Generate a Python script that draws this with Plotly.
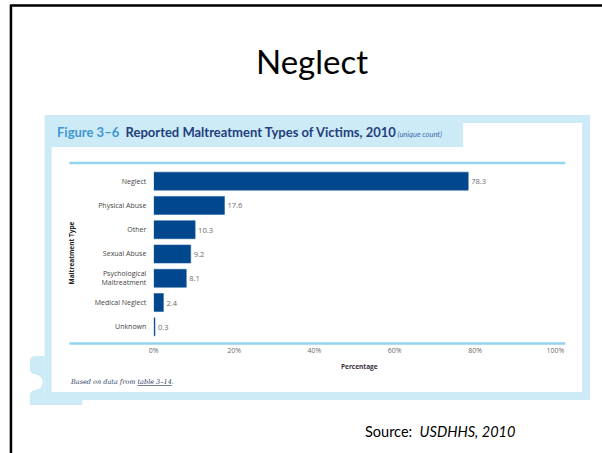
import plotly.graph_objects as go

W, H = 602, 453

categories = ["Neglect", "Physical Abuse", "Other", "Sexual Abuse",
              "Psychological<br>Maltreatment", "Medical Neglect", "Unknown"]
values = [78.3, 17.6, 10.3, 9.2, 8.1, 2.4, 0.3]
value_labels = ["78.3", "17.6", "10.3", "9.2", "8.1", "2.4", "0.3"]
x_ticks = [0, 20, 40, 60, 80, 100]
x_tick_labels = ["0%", "20%", "40%", "60%", "80%", "100%"]


def px(x):
    return x / W


def py(y):
    return 1 - y / H


FRAME = "#cdeaf7"
PLOTBG = "#cbe9f7"
LINE = "#94d2ef"
BAR = "#00478e"

fig = go.Figure()
fig.add_trace(go.Bar(
    x=values, y=categories, orientation="h",
    marker=dict(color=BAR, line=dict(color="#1d5c9c", width=0.6)),
    width=0.74,
    text=value_labels, textposition="outside",
    textfont=dict(size=7.5, color="#6a6a6a", family="Open Sans"),
    cliponaxis=False,
    hoverinfo="skip",
))

shapes = []
# outer light blue frame
shapes.append(dict(type="rect", xref="paper", yref="paper", layer="below",
                   x0=px(40), x1=px(590), y0=py(400), y1=py(115),
                   fillcolor=FRAME, line=dict(width=0)))
# decorative tab at bottom left
path = (f"M {px(40)},{py(356)} L {px(30)},{py(356)} "
        f"Q {px(25)},{py(356)} {px(25)},{py(362)} "
        f"L {px(25)},{py(368)} Q {px(25)},{py(374)} {px(30)},{py(374)} "
        f"Q {px(38)},{py(376)} {px(38)},{py(382)} "
        f"Q {px(38)},{py(389)} {px(30)},{py(390)} "
        f"Q {px(25)},{py(391)} {px(25)},{py(396)} "
        f"L {px(25)},{py(405)} L {px(78)},{py(405)} L {px(78)},{py(398)} "
        f"L {px(40)},{py(398)} Z")
shapes.append(dict(type="path", xref="paper", yref="paper", layer="below",
                   path=path, fillcolor=FRAME, line=dict(width=0)))
# white inner panel
shapes.append(dict(type="rect", xref="paper", yref="paper", layer="below",
                   x0=px(47), x1=px(582), y0=py(392), y1=py(147),
                   fillcolor="white", line=dict(width=0)))
shapes.append(dict(type="rect", xref="paper", yref="paper", layer="below",
                   x0=px(462), x1=px(582), y0=py(147), y1=py(123),
                   fillcolor="white", line=dict(width=0)))
# horizontal rule lines above and below plot
for yy in (163, 343.5):
    shapes.append(dict(type="line", xref="paper", yref="paper", layer="below",
                       x0=px(65), x1=px(565), y0=py(yy), y1=py(yy),
                       line=dict(color=LINE, width=2.5)))
# slide border
shapes.append(dict(type="line", xref="paper", yref="paper",
                   x0=px(5), x1=px(602), y0=py(5.5), y1=py(5.5),
                   line=dict(color="black", width=2.5)))
shapes.append(dict(type="line", xref="paper", yref="paper",
                   x0=px(6), x1=px(6), y0=py(5), y1=py(453),
                   line=dict(color="black", width=2.5)))

annotations = [
    dict(text="Neglect", x=px(310), y=py(61), xref="paper", yref="paper",
         showarrow=False, xanchor="center", yanchor="middle",
         font=dict(family="Lato", size=33, color="black")),
    dict(text="<b><span style='color:#3d97d2'>Figure 3–6</span>  "
              "<span style='color:#1f3f7d'>Reported Maltreatment Types of Victims, 2010</span></b>"
              "<span style='font-size:7.5px;color:#3d6fb0'><i> (unique count)</i></span>",
         x=px(50), y=py(132), xref="paper", yref="paper",
         showarrow=False, xanchor="left", yanchor="middle",
         font=dict(family="Lato", size=13, color="#1f3f7d"), ),
    dict(text="<b>Percentage</b>", x=px(357), y=py(366), xref="paper", yref="paper",
         showarrow=False, xanchor="center", yanchor="middle",
         font=dict(family="Open Sans", size=6.5, color="#3a3040")),
    dict(text="<b>Maltreatment Type</b>", x=px(68), y=py(253), xref="paper", yref="paper",
         showarrow=False, xanchor="center", yanchor="middle", textangle=-90,
         font=dict(family="Open Sans", size=6.5, color="#222")),
    dict(text="<i>Based on data from <u>table 3–14</u>.</i>", x=px(64), y=py(382),
         xref="paper", yref="paper", showarrow=False, xanchor="left", yanchor="middle",
         font=dict(family="DejaVu Serif", size=6.5, color="#2a3a60")),
    dict(text="Source:  <i>USDHHS, 2010</i>", x=px(361), y=py(431),
         xref="paper", yref="paper", showarrow=False, xanchor="left", yanchor="middle",
         font=dict(family="Lato", size=14.5, color="black")),
]

fig.update_layout(
    width=W, height=H,
    margin=dict(l=0, r=0, t=0, b=0),
    paper_bgcolor="white",
    plot_bgcolor=PLOTBG,
    showlegend=False,
    shapes=shapes,
    annotations=annotations,
    xaxis=dict(domain=[px(150), px(565)], range=[0, 102.47],
               tickvals=x_ticks, ticktext=x_tick_labels,
               showgrid=True, gridcolor="white", gridwidth=1.5,
               zeroline=False, showline=False,
               ticks="outside", ticklen=5, tickcolor="rgba(0,0,0,0)",
               tickfont=dict(family="Open Sans", size=7, color="#6a6a6a")),
    yaxis=dict(domain=[py(339), py(169)], range=[6.5, -0.5],
               categoryorder="array", categoryarray=categories,
               showgrid=False, zeroline=False, showline=False,
               ticks="outside", ticklen=5, tickcolor="rgba(0,0,0,0)",
               tickfont=dict(family="Open Sans", size=7, color="#444")),
)

fig.write_html("out.html")
